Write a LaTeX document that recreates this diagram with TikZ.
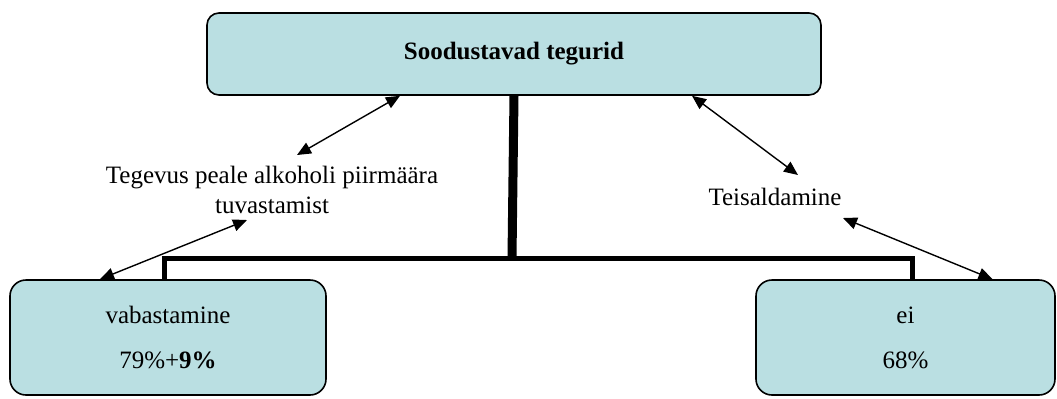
\documentclass[tikz,border=0pt]{standalone}
\usepackage{fontspec}
\setmainfont{Liberation Serif}
\usepackage{tikz}
\usetikzlibrary{arrows.meta, positioning}
\definecolor{boxfill}{RGB}{186,223,226}

\begin{document}
\begin{tikzpicture}[
      x=0.5pt, y=-0.5pt,
      box/.style={rectangle, draw, line width=0.8pt, fill=boxfill, inner sep=0pt, align=center},
      arrow/.style={{Triangle[length=7pt,width=6pt]}-{Triangle[length=7pt,width=6pt]}, line width=0.7pt},
      bus/.style={line width=2.5pt, line join=miter},
      every node/.style={font=\fontsize{12.5}{15}\selectfont}
    ]
    \useasboundingbox (0,0) rectangle (1057,398);

    % Boxes
    \node[box, rounded corners=6pt, minimum width=307pt, minimum height=41pt] (top) at (514,54) {\textbf{Soodustavad tegurid}};
    \node[box, rounded corners=8pt, minimum width=158pt, minimum height=57.5pt] (left) at (168,337.5) {vabastamine\\[7.5pt]79\%+\textbf{9\%}};
    \node[box, rounded corners=8pt, minimum width=149.5pt, minimum height=57.5pt] (right) at (905.5,337.5) {ei\\[7.5pt]68\%};

    % Labels
    \node[align=center] (tegevus) at (272,190) {Tegevus peale alkoholi piirmäära\\tuvastamist};
    \node (teisald) at (775,197) {Teisaldamine};

    % Tree lines
    \coordinate (busmid) at (512,258);
    \draw[bus, line width=4.5pt] (top.south) -- (busmid);
    \draw[bus] ([xshift=-2pt]left.north) |- (busmid) -| ([xshift=3.5pt]right.north);

    % Arrows
    \coordinate (tegA) at (297,155);
    \coordinate (tegB) at (247,220);
    \coordinate (teiA) at (798,175);
    \coordinate (teiB) at (843,218);
    \draw[arrow] ([xshift=-57pt]top.south) -- (tegA);
    \draw[arrow] (tegB) -- ([xshift=-34pt]left.north);
    \draw[arrow] ([xshift=89pt]top.south) -- (teiA);
    \draw[arrow] (teiB) -- ([xshift=43.5pt]right.north);

  \end{tikzpicture}
\end{document}
